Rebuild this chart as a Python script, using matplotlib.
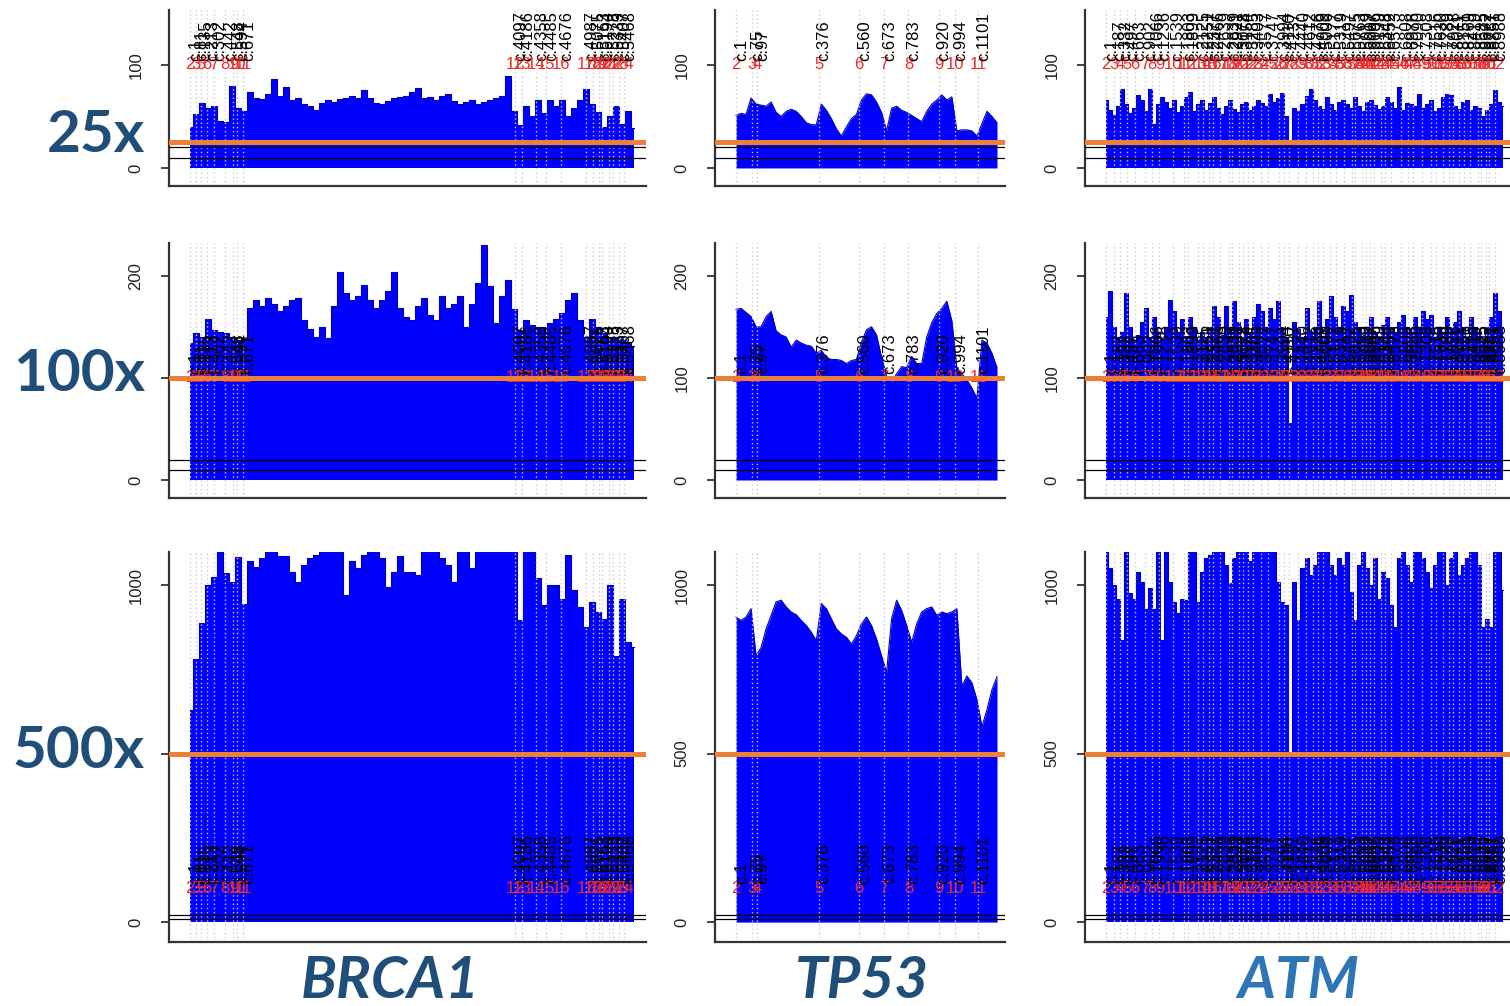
import numpy as np
import matplotlib
matplotlib.use("Agg")
import matplotlib.pyplot as plt

W, H = 1510, 1006
plt.rcParams["font.family"] = ["Liberation Sans", "DejaVu Sans"]

# --------------------------------------------------------------------------- #
# Exon structure: first coding position (c.) of each exon
# --------------------------------------------------------------------------- #
BRCA1_EXONS = ["2", "3", "5", "6", "7", "8", "9", "10", "11", "12", "13", "14",
               "15", "16", "17", "18", "19", "20", "21", "22", "23", "24"]
BRCA1_CSTART = [1, 81, 135, 213, 302, 442, 548, 594, 671, 4097, 4186, 4358,
                4485, 4676, 4987, 5075, 5153, 5194, 5278, 5333, 5407, 5468]
BRCA1_LEN = 5592

TP53_EXONS = ["2", "3", "4", "5", "6", "7", "8", "9", "10", "11"]
TP53_CSTART = [1, 75, 97, 376, 560, 673, 783, 920, 994, 1101]
TP53_LEN = 1185

ATM_CSTART = [1, 187, 332, 497, 663, 902, 1066, 1236, 1539, 1803, 1899, 2125,
              2251, 2377, 2466, 2639, 2839, 2921, 3078, 3154, 3285, 3403, 3577,
              3747, 3994, 4110, 4237, 4440, 4612, 4776, 4909, 5006, 5177, 5319,
              5497, 5675, 5763, 5919, 6007, 6096, 6199, 6348, 6452, 6573, 6808,
              6976, 7090, 7308, 7516, 7630, 7789, 7928, 8011, 8151, 8269, 8419,
              8585, 8672, 8787, 8851, 8988]
ATM_EXONS = [str(n) for n in range(2, 2 + len(ATM_CSTART))]
ATM_LEN = 9171

# --------------------------------------------------------------------------- #
# Coverage (evenly spaced along the coding sequence)
# --------------------------------------------------------------------------- #
BRCA1_25 = [40, 52, 63, 58, 60, 46, 45, 80, 58, 55, 74, 68, 67, 72, 86, 70, 79,
            66, 68, 62, 60, 56, 63, 66, 64, 67, 68, 70, 68, 76, 68, 63, 62, 65,
            68, 69, 70, 74, 78, 68, 69, 66, 70, 72, 65, 62, 64, 66, 62, 64, 66,
            68, 70, 89, 55, 42, 60, 50, 66, 53, 66, 60, 66, 50, 58, 66, 77, 62,
            54, 40, 50, 60, 43, 55, 39]
BRCA1_100 = [134, 144, 140, 158, 147, 145, 144, 140, 137, 137, 168, 176, 170,
             178, 172, 165, 170, 176, 178, 157, 148, 140, 150, 139, 170, 204,
             183, 176, 180, 191, 176, 168, 176, 185, 204, 168, 160, 157, 170,
             178, 162, 157, 180, 168, 172, 180, 150, 172, 193, 230, 190, 154,
             180, 196, 167, 147, 157, 152, 150, 150, 154, 158, 163, 176, 183,
             157, 140, 158, 150, 144, 140, 140, 138, 135, 131]
BRCA1_500 = [629, 780, 886, 1000, 1025, 1200, 1035, 1010, 1084, 945, 1070,
             1054, 1080, 1200, 1200, 1085, 1085, 1040, 1010, 1060, 1080, 1090,
             1200, 1200, 1200, 1200, 970, 1070, 1050, 1090, 1200, 1200, 1080,
             995, 1040, 1085, 1040, 1040, 1030, 1200, 1200, 1200, 1080, 1060,
             1010, 1200, 1200, 1050, 1200, 1200, 1200, 1200, 1200, 1200, 1200,
             896, 1200, 1200, 1020, 940, 1000, 1000, 960, 1090, 985, 936, 876,
             950, 920, 900, 1000, 790, 960, 830, 817]

TP53_25 = [51, 53, 52, 68, 62, 61, 60, 64, 54, 50, 55, 57, 55, 50, 44, 42, 42,
           62, 56, 48, 38, 31, 40, 48, 52, 66, 72, 71, 64, 54, 36, 58, 60, 56,
           54, 51, 48, 45, 55, 62, 66, 71, 66, 69, 36, 37, 37, 36, 31, 43, 55,
           50, 44]
TP53_100 = [167, 168, 164, 160, 150, 150, 160, 165, 146, 142, 140, 130, 137,
            134, 132, 131, 124, 127, 120, 118, 118, 117, 114, 117, 118, 135,
            147, 150, 142, 120, 102, 96, 104, 111, 110, 121, 114, 114, 140,
            154, 163, 168, 175, 156, 110, 104, 98, 90, 80, 137, 134, 124, 110]
TP53_500 = [905, 895, 905, 930, 790, 815, 870, 910, 950, 955, 935, 920, 912,
            895, 880, 860, 835, 945, 930, 900, 870, 855, 845, 825, 850, 885,
            905, 880, 840, 790, 740, 900, 955, 925, 880, 830, 885, 920, 930,
            935, 910, 920, 915, 920, 930, 700, 730, 710, 660, 580, 630, 690,
            728]

ATM_25 = [66, 56, 51, 60, 77, 62, 53, 58, 71, 66, 55, 77, 43, 62, 69, 64, 58,
          66, 54, 60, 69, 74, 55, 62, 66, 56, 63, 69, 58, 52, 60, 66, 57, 54,
          62, 64, 56, 60, 66, 63, 60, 72, 64, 68, 73, 50, 22, 58, 55, 62, 70,
          77, 66, 60, 57, 69, 62, 56, 64, 66, 62, 58, 69, 60, 55, 64, 66, 61,
          57, 60, 69, 64, 58, 79, 56, 63, 62, 60, 72, 58, 62, 66, 55, 58, 69,
          72, 71, 60, 57, 64, 66, 56, 60, 58, 50, 56, 62, 76, 64, 60]
ATM_100 = [160, 185, 150, 140, 145, 183, 150, 138, 142, 155, 168, 140, 160,
           145, 138, 150, 176, 165, 145, 158, 140, 160, 150, 138, 145, 140,
           150, 170, 160, 142, 170, 150, 175, 155, 140, 158, 145, 160, 172,
           165, 150, 168, 158, 175, 150, 140, 56, 155, 148, 140, 168, 145,
           150, 175, 140, 158, 180, 160, 150, 170, 165, 181, 155, 150, 142,
           148, 160, 145, 140, 152, 160, 150, 145, 155, 162, 150, 145, 160,
           150, 165, 158, 162, 140, 150, 145, 160, 148, 155, 165, 150, 140,
           160, 150, 145, 138, 150, 160, 183, 165, 150]
ATM_500 = [1200, 1050, 1000, 960, 837, 1200, 975, 960, 1040, 1010, 930, 990,
           930, 1200, 837, 1200, 1010, 950, 916, 960, 955, 1200, 1100, 950,
           1040, 1080, 1090, 1200, 1100, 1200, 1060, 1005, 1080, 1200, 1150,
           1120, 1070, 1200, 1200, 1100, 1200, 1200, 1150, 1010, 950, 940, 490,
           1010, 896, 1050, 1080, 1030, 1060, 1200, 1100, 1200, 1060, 1030,
           1080, 1060, 1100, 980, 896, 1060, 1100, 1050, 1000, 1080, 960, 1040,
           1020, 940, 876, 1080, 1100, 1060, 1010, 1100, 1200, 1080, 1040, 990,
           1060, 1100, 1200, 1000, 1080, 1200, 1030, 1060, 1080, 1200, 1100,
           1060, 876, 900, 876, 1100, 1200, 985]

DEPTHS = ["25x", "100x", "500x"]
THRESHOLDS = [25, 100, 500]
GENES = ["BRCA1", "TP53", "ATM"]
COVERAGE = {
    "BRCA1": [BRCA1_25, BRCA1_100, BRCA1_500],
    "TP53": [TP53_25, TP53_100, TP53_500],
    "ATM": [ATM_25, ATM_100, ATM_500],
}
STRUCTURE = {
    "BRCA1": (BRCA1_LEN, BRCA1_CSTART, BRCA1_EXONS),
    "TP53": (TP53_LEN, TP53_CSTART, TP53_EXONS),
    "ATM": (ATM_LEN, ATM_CSTART, ATM_EXONS),
}
# blocky genes drawn as a step profile, TP53 as a traced outline
STEPPED = {"BRCA1": True, "TP53": False, "ATM": True}

# --------------------------------------------------------------------------- #
# Layout (pixels): axes edges and where the coding sequence starts/ends
# --------------------------------------------------------------------------- #
COL_PX = {"BRCA1": (169, 646, 190, 634),
          "TP53": (715, 1005, 736, 997),
          "ATM": (1085, 1513, 1106, 1503)}
ROW_PX = [(10, 186, -17.5, 153.4, [0, 100]),
          (243, 498, -17.6, 232.0, [0, 100, 200]),
          (552, 942, -59.0, 1098.0, [0, 500, 1000])]
ROW_LABEL_Y = [136, 375, 752]
GENE_LABEL_X = {"BRCA1": 390, "TP53": 862, "ATM": 1298}
GENE_COLOR = {"BRCA1": "#1f4e79", "TP53": "#1f4e79", "ATM": "#2e75b6"}


def draw_panel(ax, cov, length, cstarts, exons, thr, stepped):
    x = np.linspace(1, length, len(cov))
    if stepped:
        ax.fill_between(x, 0, cov, step="mid", color="#0000ff", lw=0, zorder=1)
        ax.step(x, cov, where="mid", color="#0000b4", lw=0.8, zorder=1.5)
    else:
        ax.fill_between(x, 0, cov, color="#0000ff", lw=0, zorder=1)
        ax.plot(x, cov, color="#0000b4", lw=0.8, zorder=1.5)
    for c in cstarts:
        ax.axvline(c, color="#cccccc", lw=1.0, ls=(0, (1, 2)), zorder=2)
    for c, e in zip(cstarts, exons):
        ax.text(c, 100, e, color="#ee2a2a", fontsize=12, ha="center",
                va="center", zorder=3, clip_on=True)
        ax.annotate(f"c.{c}", (c, 100), xytext=(4, 3),
                    textcoords="offset points", rotation=90, ha="center",
                    va="bottom", fontsize=12, color="black", zorder=3)
    ax.axhline(20, color="black", lw=0.9, zorder=4)
    ax.axhline(10, color="black", lw=0.9, zorder=4)
    ax.axhline(thr, color="#ee7f36", lw=3.6, zorder=5)


fig = plt.figure(figsize=(W / 100, H / 100), dpi=100, facecolor="white")

for r, (top, bot, ylo, yhi, ticks) in enumerate(ROW_PX):
    for gene in GENES:
        a0, a1, p0, p1 = COL_PX[gene]
        length, cstarts, exons = STRUCTURE[gene]
        ax = fig.add_axes([a0 / W, 1 - bot / H, (a1 - a0) / W, (bot - top) / H])
        scale = (length - 1) / (p1 - p0)
        ax.set_xlim(1 + (a0 - p0) * scale, 1 + (a1 - p0) * scale)
        ax.set_ylim(ylo, yhi)
        draw_panel(ax, COVERAGE[gene][r], length, cstarts, exons,
                   THRESHOLDS[r], STEPPED[gene])

        for side in ("top", "right"):
            ax.spines[side].set_visible(False)
        for side in ("left", "bottom"):
            ax.spines[side].set_color("#333333")
            ax.spines[side].set_linewidth(1.6)
        ax.set_xticks([])
        ax.set_yticks(ticks)
        # in the first column the depth label covers the threshold tick label
        labels = [str(t) for t in ticks]
        if gene == "BRCA1" and r > 0:
            labels = ["" if t == THRESHOLDS[r] else s for t, s in zip(ticks, labels)]
        ax.set_yticklabels(labels)
        ax.tick_params(axis="y", length=5.5, width=1.2, pad=13, labelsize=12,
                       labelrotation=90, colors="#222222")
        for lbl in ax.get_yticklabels():
            lbl.set_va("center")
    fig.text(145 / W, 1 - ROW_LABEL_Y[r] / H, DEPTHS[r], ha="right",
             va="center", fontsize=42, fontweight="bold", family="Lato",
             color="#1f4e79")

for gene in GENES:
    fig.text(GENE_LABEL_X[gene] / W, 1 - 982 / H, gene, ha="center",
             va="center", fontsize=42, fontweight="bold", fontstyle="italic",
             family="Lato", color=GENE_COLOR[gene])

fig.savefig("out.png", dpi=100)
